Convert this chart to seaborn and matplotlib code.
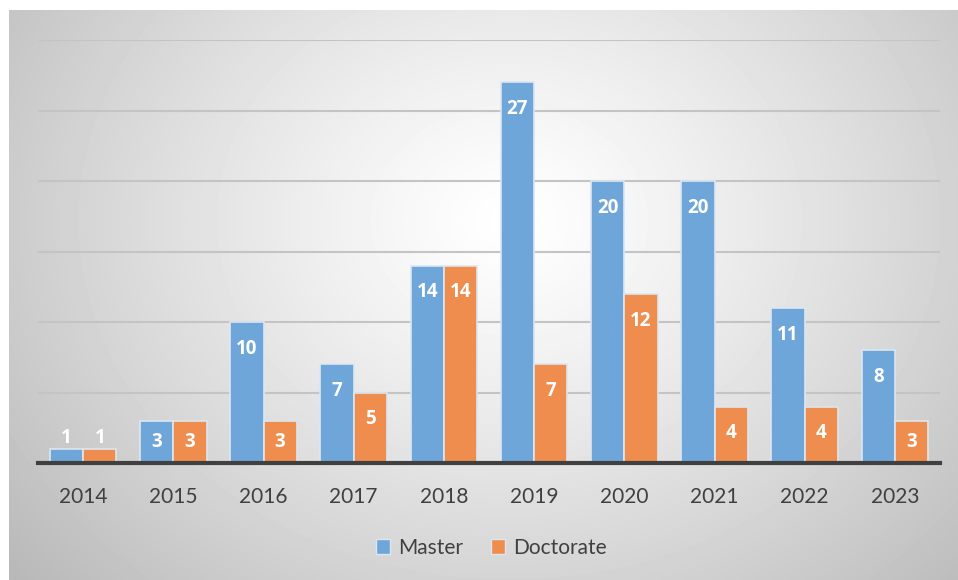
import numpy as np
import pandas as pd
import seaborn as sns
import matplotlib.pyplot as plt
from matplotlib.patches import Patch

years = ["2014", "2015", "2016", "2017", "2018", "2019", "2020", "2021", "2022", "2023"]
master = [1, 3, 10, 7, 14, 27, 20, 20, 11, 8]
doctorate = [1, 3, 3, 5, 14, 7, 12, 4, 4, 3]
series = ["Master", "Doctorate"]
colors = ["#6FA6DA", "#EF8D4E"]

df = pd.DataFrame({
    "year": years * 2,
    "count": master + doctorate,
    "degree": [series[0]] * len(years) + [series[1]] * len(years),
})

sns.set_theme(style="white")
plt.rcParams["font.family"] = ["Lato", "DejaVu Sans"]

fig = plt.figure(figsize=(9.58, 5.80), dpi=100)
fig.patch.set_facecolor("white")

# radial gradient panel behind the chart
bg = fig.add_axes([9 / 958, 0, 1 - 9 / 958, 1 - 10 / 580])
h, w = 570, 949
yy, xx = np.mgrid[0:h, 0:w]
cx, cy = 500, 210
r = np.sqrt(((xx - cx) / 600) ** 2 + ((yy - cy) / 500) ** 2)
g = 1.0 - 0.25 * np.clip(r, 0, 1.1) ** 1.2
bg.imshow(g, cmap="gray", vmin=0, vmax=1, aspect="auto", interpolation="bilinear")
bg.axis("off")

ax = fig.add_axes([38 / 958, 1 - 463 / 580, (940 - 38) / 958, (463 - 40) / 580])
ax.set_facecolor("none")
sns.barplot(data=df, x="year", y="count", hue="degree", palette=colors,
            saturation=1, width=0.74, gap=0.0, edgecolor="#DCE6F0", linewidth=1.2,
            ax=ax, legend=False, zorder=3)

ax.set_ylim(0, 30)
ax.set_yticks([0, 5, 10, 15, 20, 25, 30])
ax.yaxis.grid(True, color="#C4C4C4", linewidth=1.5, zorder=0)
ax.set_axisbelow(True)
ax.tick_params(axis="y", left=False, labelleft=False)
ax.tick_params(axis="x", bottom=False, labelsize=15, labelcolor="#404040", pad=11)
ax.set_xlabel("")
ax.set_ylabel("")
for s in ["top", "right", "left"]:
    ax.spines[s].set_visible(False)
ax.spines["bottom"].set_color("#404040")
ax.spines["bottom"].set_linewidth(3)
ax.spines["bottom"].set_zorder(5)

for cont in ax.containers:
    for bar in cont:
        v = bar.get_height()
        if v < 2:
            y = v + 0.75
        else:
            y = max(v - 1.9, v / 2)
        ax.text(bar.get_x() + bar.get_width() / 2, y, f"{int(v)}",
                ha="center", va="center", color="white",
                fontsize=13.5, fontweight="bold",
                family=["Open Sans", "DejaVu Sans"], zorder=6)

handles = [Patch(facecolor=c, edgecolor="#DCE6F0", label=l) for c, l in zip(colors, series)]
fig.legend(handles=handles, loc="center", bbox_to_anchor=(0.513, 1 - 548 / 580),
           ncol=2, frameon=False, fontsize=15, labelcolor="#404040",
           handlelength=0.7, handleheight=0.7, handletextpad=0.4, columnspacing=1.3)

fig.savefig("out.png", dpi=100)
